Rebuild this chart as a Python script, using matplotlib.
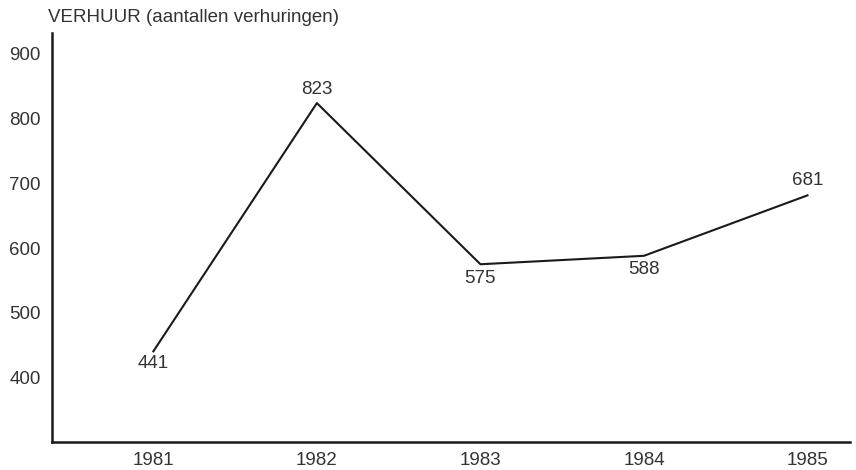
import matplotlib.pyplot as plt

plt.rcParams['font.family'] = ['Liberation Sans', 'DejaVu Sans']

years = [1981, 1982, 1983, 1984, 1985]
verhuur = [441, 823, 575, 588, 681]
yticks = [400, 500, 600, 700, 800, 900]
# label offsets in points (dx, dy)
offsets = [(0, -9), (0, 10), (0, -10), (0, -10), (0, 11)]

txt = '#333333'
fig = plt.figure(figsize=(8.56, 4.70), dpi=100)
ax = fig.add_axes([0.0607, 0.0596, 0.9323, 0.8704])

ax.plot(years, verhuur, color='#1a1a1a', linewidth=1.5)
for x, y, (dx, dy) in zip(years, verhuur, offsets):
    ax.annotate(str(y), (x, y), xytext=(dx, dy), textcoords='offset points',
                ha='center', va='center', fontsize=13.5, color=txt)

ax.set_xlim(1980.38, 1985.26)
ax.set_ylim(301.5, 931)
ax.set_xticks(years)
ax.set_yticks(yticks)
ax.tick_params(length=0, labelsize=13.5, labelcolor=txt, pad=8)
ax.tick_params(axis='x', pad=7)

for s in ['top', 'right']:
    ax.spines[s].set_visible(False)
for s in ['left', 'bottom']:
    ax.spines[s].set_linewidth(1.8)
    ax.spines[s].set_color('#1a1a1a')

fig.text(0.056, 0.963, "VERHUUR (aantallen verhuringen)", fontsize=13.5,
         color=txt, ha='left', va='center')

fig.savefig("out.png", dpi=100)
